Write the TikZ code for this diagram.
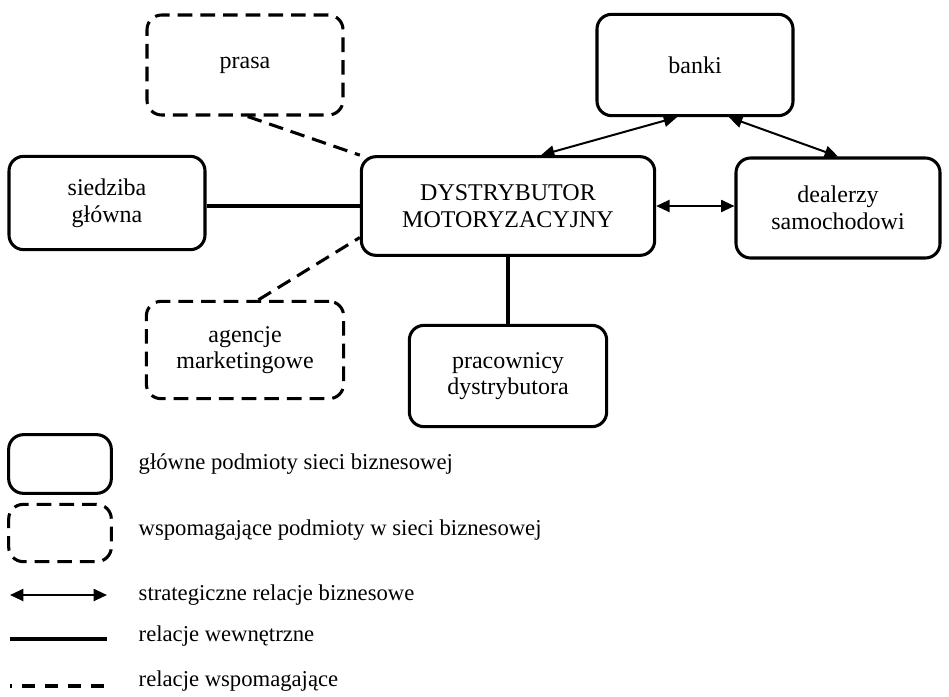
\documentclass[tikz,border=0pt]{standalone}
\usepackage{fontspec}
\setmainfont{Liberation Serif}
\usetikzlibrary{arrows.meta}
\usetikzlibrary{positioning}
\tikzset{
mainbox/.style={
	rectangle,
	rounded corners=11pt,
	text centered,
	align=center,
	draw=black,
	line width=2.3pt,
	fill=white,
	inner sep=3pt
},
auxbox/.style={
	mainbox,
	dash pattern=on 11pt off 6pt
},
strategic/.style={
	{Triangle[length=10pt,width=9pt]}-{Triangle[length=10pt,width=9pt]},
	draw=black,
	line width=1.5pt
},
internal/.style={
	draw=black,
	line width=2.3pt
},
support/.style={
	draw=black,
	line width=2.3pt,
	dash pattern=on 11pt off 6pt
},
legtext/.style={
	anchor=west,
	font=\fontsize{17}{20}\selectfont
}
}
\begin{document}
\begin{tikzpicture}[x=0.75pt, y=-0.75pt, font=\fontsize{18}{20}\selectfont]
\useasboundingbox (0,0) rectangle (949,696);
% ===== Main actors =====
\node (dist)    [mainbox, minimum width=220pt, minimum height=74pt] at (508, 206) {DYSTRYBUTOR\\MOTORYZACYJNY};
\node (hq)      [mainbox, minimum width=147pt, minimum height=70pt] at (107, 203) {siedziba\\główna};
\node (banks)   [mainbox, minimum width=147pt, minimum height=76pt] at (695, 65)  {banki};
\node (dealers) [mainbox, minimum width=153pt, minimum height=75pt] at (838, 208) {dealerzy\\samochodowi};
\node (staff)   [mainbox, minimum width=148pt, minimum height=76pt] at (508, 376) {pracownicy\\dystrybutora};
% ===== Supporting actors =====
\node (press)   [auxbox, minimum width=147pt, minimum height=75pt] at (245, 65)  {prasa};
\node (agency)  [auxbox, minimum width=148pt, minimum height=73pt] at (245, 350) {agencje\\marketingowe};
% ===== Relations =====
\draw [strategic] (dist.57)    -- (banks.-109);
\draw [strategic] (banks.-57)  -- (dealers.north);
\draw [strategic] (dist.east)  -- (dist.east -| dealers.west);
\draw [internal]  (dist.west)  -- (dist.west -| hq.east);
\draw [internal]  (dist.south) -- (dist.south |- staff.north);
\draw [support]   (press.-87)  -- (dist.north west);
\draw [support]   (agency.75)  -- (dist.-168);

% ===== Legend =====
\node (legmain) [mainbox, minimum width=77pt, minimum height=44pt] at (60, 464) {};
\node (legaux)  [auxbox,  minimum width=77pt, minimum height=43pt] at (60, 533) {};
\coordinate (la1) at (10, 595);  \coordinate (la2) at (107, 595);
\coordinate (lb1) at (10, 639);  \coordinate (lb2) at (107, 639);
\coordinate (lc1) at (10, 686);  \coordinate (lc2) at (107, 686);
\draw [strategic] (la1) -- (la2);
\draw [internal]  (lb1) -- (lb2);
\draw [support, dash pattern=on 9.75pt off 7.5pt, dash phase=8.25pt] (lc1) -- (lc2);
\node (txtmain) [legtext] at (134, 464) {główne podmioty sieci biznesowej};
\node (txtaux)  [legtext] at (134, 530) {wspomagające podmioty w sieci biznesowej};
\node (txtstr)  [legtext] at (134, 595) {strategiczne relacje biznesowe};
\node (txtint)  [legtext] at (134, 636) {relacje wewnętrzne};
\node (txtsup)  [legtext] at (134, 681) {relacje wspomagające};
\end{tikzpicture}
\end{document}
